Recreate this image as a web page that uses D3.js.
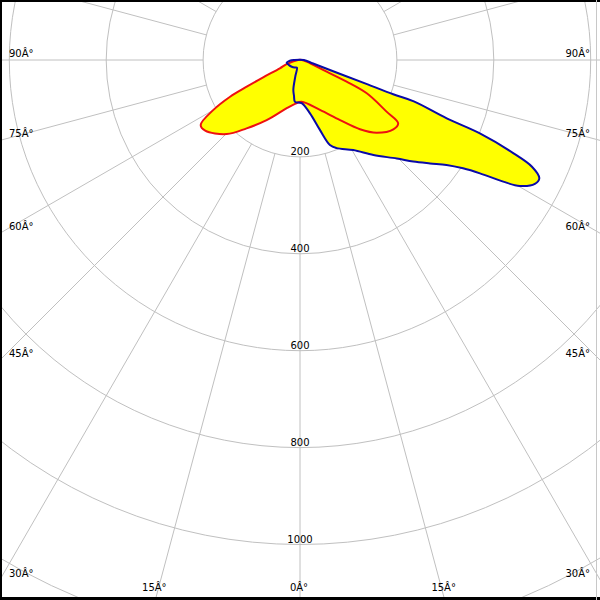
<!DOCTYPE html>
<html>
<head>
<meta charset="utf-8">
<script src="https://cdn.jsdelivr.net/npm/d3@7"></script>
<style>
  html, body { margin: 0; padding: 0; background: #fff; }
  svg { display: block; }
  text { font-family: "DejaVu Sans", sans-serif; font-size: 10px; fill: #000; }
</style>
</head>
<body>
<script>
// ---- data (gamma angle in degrees, 0 = straight down, + = right) ----
const redAngles = [-90, -73, -67.5, -64.8, -63.4, -62.3, -60, -56.8, -53.3, -44.7, -38, -29, -15.4, -6.5, 2.3, 21.8, 33.7, 40.9, 46.5, 53.4, 57.2, 59.2, 63.5, 65.1, 66.3, 76, 90];
const redValues = [4, 29, 45, 84, 123, 163, 207, 245, 244, 215, 179, 142, 103, 91, 86, 111, 149, 189, 218, 240, 241, 208, 154, 106, 60, 14, 4];

const blueAngles = [-90, -86, -78.5, -65, -51, -35, -22, -16, -12.6, -9.5, -6.8, 2.2, 10.6, 15.9, 19.4, 22.6, 30.6, 37.7, 44.5, 48.1, 51.5, 54.4, 56.4, 57.8, 59.1, 60.2, 62.2, 63.7, 65.3, 66.4, 67.8, 68.3, 70.0, 69.8, 70.2, 70.9, 74.9, 90];
const blueValues = [12, 21, 28, 25, 22, 19, 17, 35, 63, 75, 87, 89, 112, 150, 186, 197, 216, 248, 285, 314, 343, 372, 404, 439, 489, 523, 548, 551, 527, 481, 401, 326, 250, 205, 147, 88, 28, 8];

const radialTicks = [200, 400, 600, 800, 1000, 1200];
const radialLabels = [200, 400, 600, 800, 1000];
const sideAngleLabels = [90, 75, 60, 45, 30];
const bottomAngleLabels = [-15, 0, 15];
const gridAngleStep = 15;

// ---- layout ----
const W = 600, H = 600;
const cx = 300, cy = 60;
const r = d3.scaleLinear().domain([0, 1200]).range([0, 581.4]);
const toRad = a => (180 - a) * Math.PI / 180; // d3 radial angle (0 = up, clockwise)

const svg = d3.select("body").append("svg").attr("width", W).attr("height", H);
svg.append("rect").attr("width", W).attr("height", H).attr("fill", "#fff");

const g = svg.append("g").attr("transform", `translate(${cx},${cy})`);
const grid = "#c0c0c0";

// circles
g.selectAll("circle.grid").data(radialTicks).join("circle")
  .attr("class", "grid").attr("r", d => r(d))
  .attr("fill", "none").attr("stroke", grid).attr("stroke-width", 1);

// radial lines every 15 degrees, starting at the first ring
const spokes = d3.range(0, 360, gridAngleStep);
g.selectAll("line.spoke").data(spokes).join("line")
  .attr("class", "spoke")
  .attr("x1", d => r(radialTicks[0]) * Math.sin(d * Math.PI / 180))
  .attr("y1", d => r(radialTicks[0]) * Math.cos(d * Math.PI / 180))
  .attr("x2", d => 1000 * Math.sin(d * Math.PI / 180))
  .attr("y2", d => 1000 * Math.cos(d * Math.PI / 180))
  .attr("stroke", grid).attr("stroke-width", 1);

// curves
const mk = (angles, values) => angles.map((a, i) => [a, values[i]]);
const redData = mk(redAngles, redValues);
const blueData = mk(blueAngles, blueValues);
const line = d3.lineRadial()
  .angle(d => toRad(d[0]))
  .radius(d => r(d[1]))
  .curve(d3.curveCatmullRomClosed.alpha(0.5));

g.append("path").attr("d", line(blueData)).attr("fill", "#ffff00").attr("stroke", "none");
g.append("path").attr("d", line(redData)).attr("fill", "#ffff00").attr("stroke", "none");
g.append("path").attr("d", line(redData)).attr("fill", "none").attr("stroke", "#ee1111").attr("stroke-width", 2).attr("stroke-linejoin", "round");
g.append("path").attr("d", line(blueData)).attr("fill", "none").attr("stroke", "#0a0aa8").attr("stroke-width", 2).attr("stroke-linejoin", "round");

// radial value labels
g.selectAll("text.rv").data(radialLabels).join("text")
  .attr("class", "rv").attr("x", 0).attr("y", d => r(d) - 2)
  .attr("text-anchor", "middle").text(d => d);

// side angle labels (where spokes leave the left / right edges)
sideAngleLabels.forEach(a => {
  const t = a * Math.PI / 180;
  const yEdge = cy + cx / Math.tan(t);
  svg.append("text").attr("x", 9).attr("y", yEdge - 3).attr("text-anchor", "start").text(`${a}Â°`);
  svg.append("text").attr("x", 590).attr("y", yEdge - 3).attr("text-anchor", "end").text(`${a}Â°`);
});
// bottom angle labels
bottomAngleLabels.forEach(a => {
  const t = a * Math.PI / 180;
  const xEdge = cx + (H - cy) * Math.tan(t);
  svg.append("text").attr("x", xEdge - 1).attr("y", 591).attr("text-anchor", "middle").text(`${Math.abs(a)}Â°`);
});

// frame
svg.append("rect").attr("x", 0).attr("y", 0).attr("width", W).attr("height", 2).attr("fill", "#000");
svg.append("rect").attr("x", 0).attr("y", 0).attr("width", 2).attr("height", H).attr("fill", "#000");
svg.append("rect").attr("x", 0).attr("y", 597).attr("width", W).attr("height", 3).attr("fill", "#000");
svg.append("line").attr("x1", 596.5).attr("x2", 596.5).attr("y1", 0).attr("y2", H).attr("stroke", "#c8c8c8");
</script>
</body>
</html>
